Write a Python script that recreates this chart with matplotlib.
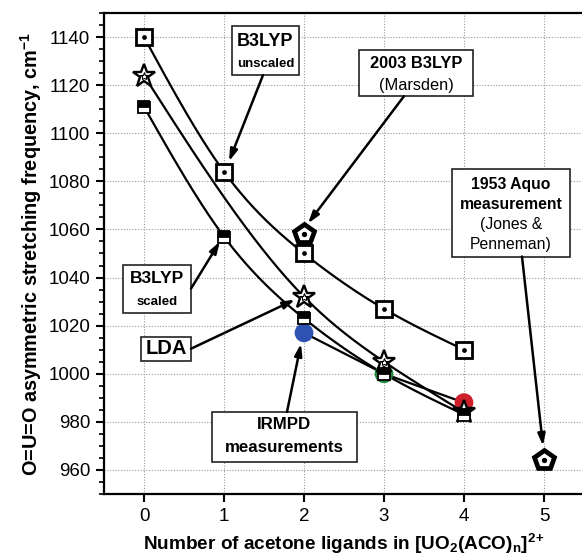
import numpy as np
import matplotlib
matplotlib.use("Agg")
import matplotlib.pyplot as plt
from matplotlib.patches import Rectangle

plt.rcParams['font.family'] = ['Liberation Sans', 'DejaVu Sans']
plt.rcParams['mathtext.fontset'] = 'custom'
plt.rcParams['mathtext.rm'] = 'Liberation Sans:bold'
plt.rcParams['mathtext.it'] = 'Liberation Sans:bold'
plt.rcParams['mathtext.bf'] = 'Liberation Sans:bold'

# ---- data ----
b3lyp_unscaled_n = [0, 1, 2, 3, 4]
b3lyp_unscaled = [1140, 1084, 1050, 1027, 1010]
lda_n = [0, 2, 3, 4]
lda = [1124, 1032, 1005, 984]
b3lyp_scaled_n = [0, 1, 2, 3, 4]
b3lyp_scaled = [1111, 1057, 1023, 1000, 983]
irmpd_n = [2, 3, 4]
irmpd = [1017, 1000, 988]
irmpd_colors = ['#2d52b4', '#1f8c3c', '#cf1f2a']
marsden_n = [2]
marsden = [1058]
aquo_n = [5]
aquo = [964]
xticks = [0, 1, 2, 3, 4, 5]
yticks = [960, 980, 1000, 1020, 1040, 1060, 1080, 1100, 1120, 1140]


def natural_spline(x, y, num=200):
    x = np.asarray(x, float)
    y = np.asarray(y, float)
    n = len(x)
    h = np.diff(x)
    A = np.zeros((n, n))
    r = np.zeros(n)
    A[0, 0] = 1
    A[-1, -1] = 1
    for i in range(1, n - 1):
        A[i, i - 1] = h[i - 1]
        A[i, i] = 2 * (h[i - 1] + h[i])
        A[i, i + 1] = h[i]
        r[i] = 3 * ((y[i + 1] - y[i]) / h[i] - (y[i] - y[i - 1]) / h[i - 1])
    c = np.linalg.solve(A, r)
    xs = np.linspace(x[0], x[-1], num)
    ys = np.empty_like(xs)
    for k, xv in enumerate(xs):
        i = min(np.searchsorted(x, xv, side='right') - 1, n - 2)
        i = max(i, 0)
        dx = xv - x[i]
        b = (y[i + 1] - y[i]) / h[i] - h[i] * (2 * c[i] + c[i + 1]) / 3
        d = (c[i + 1] - c[i]) / (3 * h[i])
        ys[k] = y[i] + b * dx + c[i] * dx ** 2 + d * dx ** 3
    return xs, ys


fig = plt.figure(figsize=(5.82, 5.59), dpi=100)
ax = fig.add_axes([104 / 582, 1 - 494 / 559, 480 / 582, 481 / 559])
ax.set_xlim(-0.5, 5.5)
ax.set_ylim(950, 1150)

# grid
ax.set_xticks(xticks)
ax.set_yticks(yticks)
ax.set_yticks(np.arange(950, 1151, 5), minor=True)
ax.grid(True, which='major', linestyle=(0, (1, 1.5)), color='#9a9a9a', lw=0.8, zorder=0)
ax.set_axisbelow(True)

# lines
lw = 1.6
for xs_, ys_ in [(b3lyp_unscaled_n, b3lyp_unscaled), (lda_n, lda), (b3lyp_scaled_n, b3lyp_scaled)]:
    sx, sy = natural_spline(xs_, ys_)
    ax.plot(sx, sy, color='k', lw=lw, zorder=2)
ax.plot(irmpd_n, irmpd, color='k', lw=lw, zorder=2)

# IRMPD circles
ax.scatter(irmpd_n, irmpd, s=13.5 ** 2, c=irmpd_colors, zorder=3, edgecolors='none')

# B3LYP unscaled squares
ax.plot(b3lyp_unscaled_n, b3lyp_unscaled, 's', ms=11, mfc='white', mec='k', mew=2.0, zorder=4, ls='none')
ax.plot(b3lyp_unscaled_n, b3lyp_unscaled, 'o', ms=2.4, color='k', zorder=4.1, ls='none')

# LDA stars
ax.plot(lda_n, lda, '*', ms=17, mfc='white', mec='k', mew=1.7, zorder=4.5, ls='none')
ax.plot(lda_n, lda, '*', ms=6, mfc='white', mec='k', mew=0.8, zorder=4.6, ls='none')

# B3LYP scaled half squares
ax.plot(b3lyp_scaled_n, b3lyp_scaled, 's', ms=8.5, fillstyle='top', mfc='k', mfcalt='white',
        mec='k', mew=1.3, zorder=5, ls='none')

# pentagons
for xn, yv in [(marsden_n, marsden), (aquo_n, aquo)]:
    ax.plot(xn, yv, 'p', ms=14.5, mfc='white', mec='k', mew=3.4, zorder=5.5, ls='none')
    ax.plot(xn, yv, 'o', ms=2.8, color='k', zorder=5.6, ls='none')

# ticks / spines
ax.tick_params(axis='both', which='major', direction='out', length=6, width=1.5, labelsize=13.5, pad=4)
ax.tick_params(axis='y', which='minor', direction='out', length=3.5, width=1.2)
ax.tick_params(axis='x', which='minor', bottom=False)
for s in ax.spines.values():
    s.set_linewidth(1.6)

ax.set_xlabel(r'Number of acetone ligands in [UO$_2$(ACO)$_n$]$^{2\!+}$', fontsize=13.7,
              fontweight='bold', labelpad=5)
ax.set_ylabel(r'O=U=O asymmetric stretching frequency, cm$^{-1}$', fontsize=14.3,
              fontweight='bold', labelpad=3)


def px2d(px, py):
    return (px - 144) / 80.0, 1140 - (py - 36) / 2.4


def box(x0, y0, x1, y1):
    (dx0, dy0) = px2d(x0, y1)
    (dx1, dy1) = px2d(x1, y0)
    ax.add_patch(Rectangle((dx0, dy0), dx1 - dx0, dy1 - dy0, facecolor='white', edgecolor='#222222',
                           lw=1.2, zorder=6, clip_on=False))


def txt(px, py, s, size, weight='bold'):
    x, y = px2d(px, py)
    ax.text(x, y, s, ha='center', va='center', fontsize=size, fontweight=weight, zorder=7)


def arrow(p0, p1):
    ax.annotate('', xy=px2d(*p1), xytext=px2d(*p0),
                arrowprops=dict(arrowstyle='-|>,head_length=0.7,head_width=0.22', color='k', lw=1.8,
                                shrinkA=0, shrinkB=0), zorder=6.5)


# B3LYP unscaled
box(232, 25, 299, 74)
txt(265.5, 40, 'B3LYP', 13)
txt(265.5, 63, 'unscaled', 9.5)
arrow((263, 74), (229, 160))

# 2003 B3LYP (Marsden)
box(359, 49, 473, 95)
txt(416, 62, '2003 B3LYP', 11.8)
txt(416, 84, '(Marsden)', 11.8, 'normal')
arrow((404, 95), (308, 222))

# 1953 Aquo
box(452, 168, 570, 255)
txt(511, 183, '1953 Aquo', 11.3)
txt(511, 203, 'measurement', 11.3)
txt(511, 223, '(Jones &', 11.3, 'normal')
txt(511, 243, 'Penneman)', 11.3, 'normal')
arrow((522, 255), (543, 444))

# B3LYP scaled
box(123, 263, 191, 311)
txt(157, 277, 'B3LYP', 12.5)
txt(157, 300, 'scaled', 9.5)
arrow((191, 287), (220, 240))

# LDA
box(141, 335, 191, 359)
txt(166, 347, 'LDA', 14.5)
arrow((191, 347), (295, 298))

# IRMPD
box(212, 410, 357, 460)
txt(284.5, 423, 'IRMPD', 12.2)
txt(284.5, 446, 'measurements', 12.2)
arrow((287, 410), (301, 342))

fig.savefig('out.png', dpi=100)
